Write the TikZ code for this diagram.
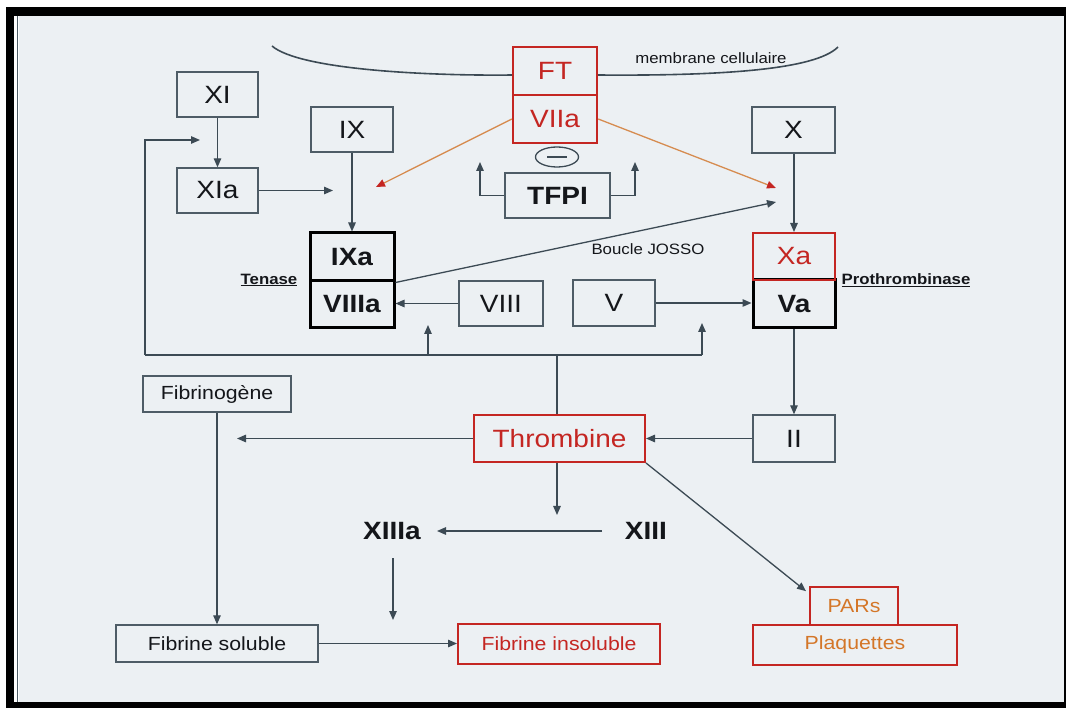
\documentclass[tikz,border=0pt]{standalone}
\usepackage{fontspec}
\setmainfont{Liberation Sans}[FakeStretch=1.12]
\usetikzlibrary{arrows.meta,shapes.geometric,calc}
\definecolor{bgc}{RGB}{236,240,243}
\definecolor{boxc}{RGB}{78,92,102}
\definecolor{linec}{RGB}{60,74,84}
\definecolor{redc}{RGB}{196,38,34}
\definecolor{orc}{RGB}{214,140,80}
\definecolor{ortxt}{RGB}{212,118,40}
\definecolor{txt}{RGB}{20,22,26}
\tikzset{
  bx/.style={draw=boxc, line width=1.4pt, inner sep=0pt, text=txt, font=\fontsize{25}{25}\selectfont},
  rbx/.style={bx, draw=redc, line width=2.4pt, text=redc},
  kbx/.style={bx, draw=black, line width=3pt, font=\fontsize{25}{25}\selectfont\bfseries},
  sbx/.style={bx, font=\fontsize{19}{19}\selectfont},
  obx/.style={bx, draw=redc, line width=2.4pt, text=ortxt, font=\fontsize{19}{19}\selectfont},
  lbl/.style={inner sep=0pt, text=txt, font=\fontsize{15}{15}\selectfont},
  con/.style={draw=linec, line width=1.3pt, -{Triangle[length=9pt,width=7.5pt]}},
  ocon/.style={draw=orc, line width=1.3pt, -{Triangle[length=9pt,width=7.5pt,color=redc]}},
  ln/.style={draw=linec, line width=1.3pt},
}
\begin{document}
\begin{tikzpicture}[x=1pt,y=-1pt]
\useasboundingbox (0,0) rectangle (1069,708);
% frame
\fill[white] (0,0) rectangle (1069,708);
\fill[black] (6,7) rectangle (1066,708);
\fill[white] (14,16) rectangle (1064,702);
\fill[bgc] (19,16) rectangle (1064,702);
\draw[boxc, line width=1pt] (17.5,16) -- (17.5,702);

% membrane
\coordinate (m1) at (272,46);
\coordinate (m2) at (513,75);
\coordinate (m3) at (597,75);
\coordinate (m4) at (838,47);
\draw[linec, line width=1.6pt] (m1) .. controls (300,70) and (430,76) .. (m2);
\draw[linec, line width=1.6pt] (m3) .. controls (720,76) and (815,70) .. (m4);
\node[lbl, anchor=center] (memb) at (711,58) {membrane cellulaire};

% nodes
\node[bx, minimum width=81pt, minimum height=45pt] (xi) at (217.5,94.5) {XI};
\node[bx, minimum width=81pt, minimum height=45pt] (xia) at (217.5,190.5) {XIa};
\node[bx, minimum width=82pt, minimum height=45pt] (ix) at (352,129.5) {IX};
\node[kbx, minimum width=84pt, minimum height=48pt] (ixa) at (352,257) {IXa};
\node[kbx, minimum width=84pt, minimum height=47pt] (viiia) at (352,304.5) {VIIIa};
\node[rbx, minimum width=84pt, minimum height=48pt] (ft) at (555,71) {FT};
\node[rbx, minimum width=84pt, minimum height=48pt] (viia) at (555,119) {VIIa};
\node[bx, minimum width=105pt, minimum height=45pt, font=\fontsize{25}{25}\selectfont\bfseries] (tfpi) at (557.5,195.5) {TFPI};
\node[ellipse, draw=linec, line width=1.3pt, minimum width=43pt, minimum height=20pt, inner sep=0pt] (minus) at (557,157) {\color{linec}\rule[0.5pt]{20pt}{2pt}};
\node[bx, minimum width=83pt, minimum height=46pt] (x) at (793.5,130) {X};
\node[kbx, minimum width=82pt, minimum height=48pt] (va) at (794,304) {Va};
\node[rbx, minimum width=82pt, minimum height=47pt, font=\fontsize{25}{25}\selectfont, line width=2pt] (xa) at (794,256.5) {Xa};
\node[bx, minimum width=84pt, minimum height=45pt] (viii) at (501,303.5) {VIII};
\node[bx, minimum width=82pt, minimum height=46pt] (v) at (614,303) {V};
\node[bx, minimum width=82pt, minimum height=47pt] (ii) at (794,438.5) {II};
\node[rbx, minimum width=171pt, minimum height=47pt, line width=2pt] (thr) at (559.5,438.5) {Thrombine};
\node[sbx, minimum width=148pt, minimum height=36pt] (fbg) at (217,394) {Fibrinogène};
\node[sbx, minimum width=202pt, minimum height=37pt] (fsol) at (217,643.5) {Fibrine soluble};
\node[rbx, minimum width=202pt, minimum height=40pt, font=\fontsize{19}{19}\selectfont, line width=2pt] (fins) at (559,643.5) {Fibrine insoluble};
\node[obx, minimum width=88pt, minimum height=38pt] (pars) at (854,606) {PARs};
\node[obx, minimum width=204pt, minimum height=40pt] (plaq) at (855,645) {Plaquettes};
\node[inner sep=0pt, text=txt, font=\fontsize{25}{25}\selectfont\bfseries] (xiiia) at (392,531) {XIIIa};
\node[inner sep=0pt, text=txt, font=\fontsize{25}{25}\selectfont\bfseries] (xiii) at (646,531) {XIII};

% labels
\node[lbl, font=\fontsize{15}{15}\selectfont\bfseries] (tenase) at (269,280) {\underline{Tenase}};
\node[lbl, font=\fontsize{15}{15}\selectfont\bfseries] (proth) at (906,280) {\underline{Prothrombinase}};
\node[lbl] (josso) at (648,249) {Boucle JOSSO};

% free ends
\coordinate (ixin) at (333,190.5);
\coordinate (ixtip) at (376,187);
\coordinate (xtip) at (776,188);
\coordinate (jtip) at (776,202);
\coordinate (tl) at (480,162);
\coordinate (tr) at (635,162);
\coordinate (fbL) at (145,355);
\coordinate (fbM) at (428,355);
\coordinate (fbR) at (702,355);
\coordinate (fbMtip) at (428,325);
\coordinate (fbRtip) at (702,323);
\coordinate (xiin) at (200,140);
\coordinate (fbgtip) at (237,438.5);
\coordinate (thrtip) at (557,515);
\coordinate (xiiis) at (602,531);
\coordinate (xiiitip) at (437,531);
\coordinate (xiiias) at (393,558);
\coordinate (xiiiatip) at (393,620);

% connectors
\draw[con] (xi) -- (xia);
\draw[con] (ix) -- (ixa);
\draw[con] (x.south -| xa.north) -- (xa.north);
\draw[con] (xia.east) -- (ixin);
\draw[ocon] (viia.west) -- (ixtip);
\draw[ocon] (viia.east) -- (xtip);
\draw[con] (ixa.south east) -- (jtip);
\draw[con] (tfpi.west) -| (tl);
\draw[con] (tfpi.east) -| (tr);
\draw[con] (viii.west) -- (viii.west -| viiia.east);
\draw[con] (v.east) -- (v.east -| va.west);
\draw[con] (va) -- (ii);
\draw[con] (ii) -- (thr);
\draw[ln] (thr.north -| thrtip) -- (thrtip |- fbL);
\draw[ln] (fbL) -- (fbR);
\draw[con] (fbL) |- (xiin);
\draw[con] (fbM) -- (fbMtip);
\draw[con] (fbR) -- (fbRtip);
\draw[con] (thr.west) -- (fbgtip);
\draw[con] (fbg) -- (fsol);
\draw[con] (thr.south -| thrtip) -- (thrtip);
\draw[con] (xiiis) -- (xiiitip);
\draw[con] (xiiias) -- (xiiiatip);
\draw[con] (fsol) -- (fins);
\draw[con, shorten >=1pt] (thr.south east) -- ($(pars.north west)+(-2,6)$);
\end{tikzpicture}
\end{document}
